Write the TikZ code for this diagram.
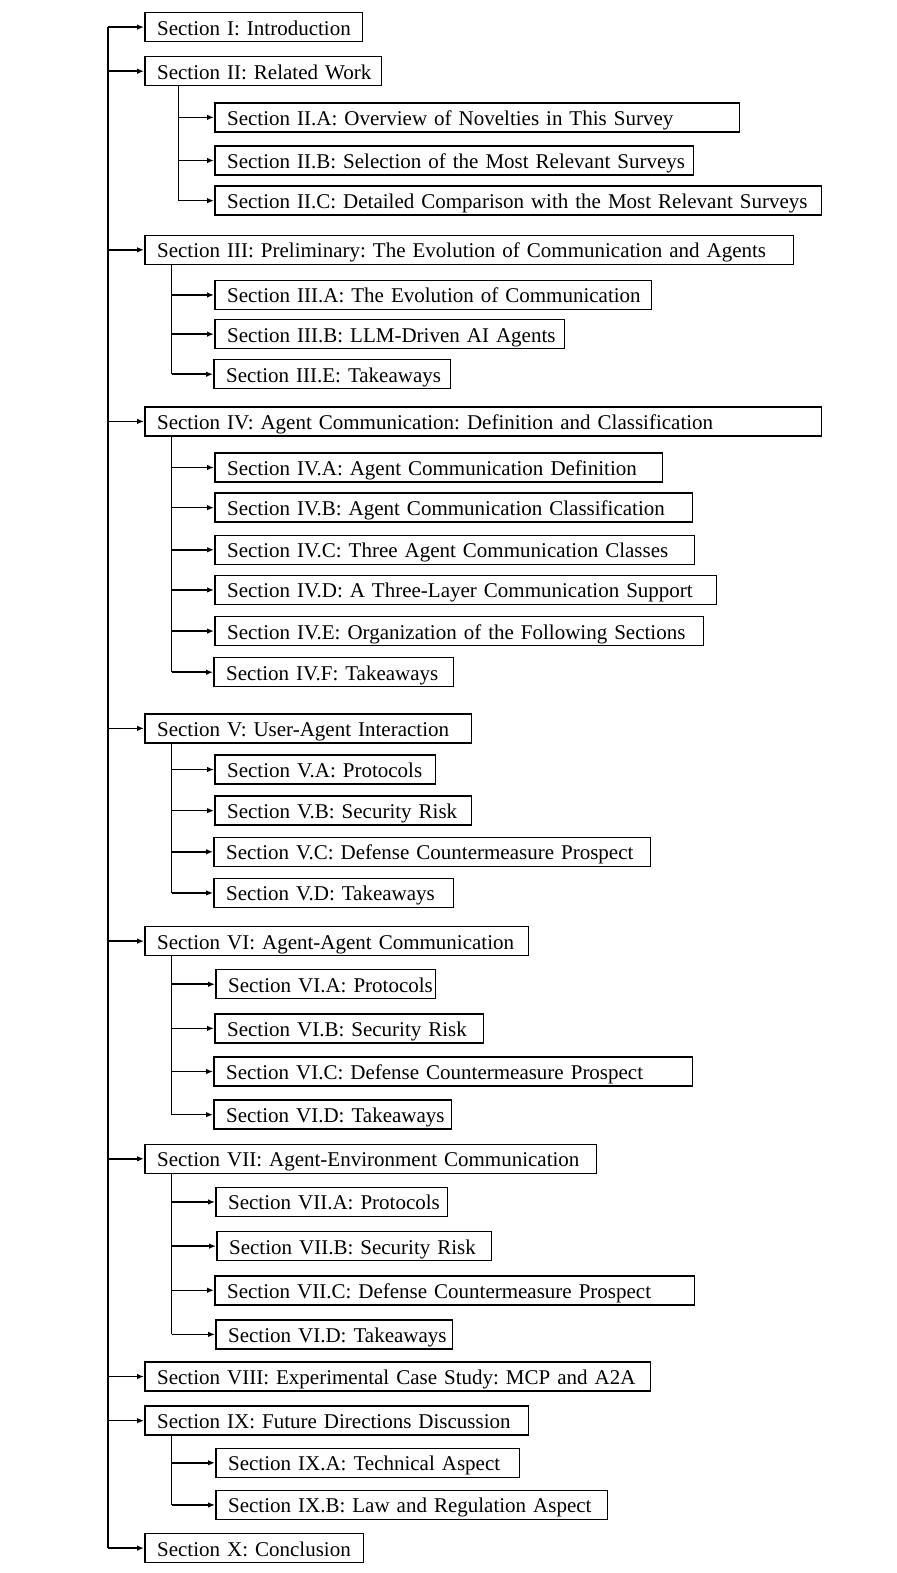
\documentclass[tikz,border=0pt]{standalone}
\usepackage{fontspec}
\setmainfont{Liberation Serif}
\usetikzlibrary{arrows.meta}
\frenchspacing

\begin{document}
\begin{tikzpicture}[
    x=0.5pt, y=-0.50165pt,
    font=\fontsize{10.5}{12}\selectfont,
    % Stile
    secbox/.style={draw=black, line width=0.75pt, anchor=west, align=left,
        inner xsep=0pt, inner ysep=0pt, text height=9.5pt, text depth=1.5pt,
        minimum height=14.5pt, text width={#1*0.5pt-0.75pt},
        execute at begin node={\hspace*{6.2pt}}},
    trunkline/.style={draw=black, line width=0.75pt},
    link/.style={trunkline, -{Latex[length=3.5pt,width=2.8pt]}}
]
    \useasboundingbox (0pt,0pt) rectangle (448.5pt,-786.5pt);

    % ==========================================
    % Hauptabschnitte und Unterabschnitte
    % ==========================================
    \node[secbox=219] (s1) at (144,27) {Section I: Introduction};

    \node[secbox=238] (s2) at (144,71) {Section II: Related Work};
    \node[secbox=526] (s2a) at (214,117) {Section II.A: Overview of Novelties in This Survey};
    \node[secbox=480] (s2b) at (214,160) {Section II.B: Selection of the Most Relevant Surveys};
    \node[secbox=608] (s2c) at (214,200) {Section II.C: Detailed Comparison with the Most Relevant Surveys};

    \node[secbox=650] (s3) at (144,249) {Section III: Preliminary: The Evolution of Communication and Agents};
    \node[secbox=438] (s3a) at (214,294) {Section III.A: The Evolution of Communication};
    \node[secbox=351] (s3b) at (214,333) {Section III.B: LLM-Driven AI Agents};
    \node[secbox=238] (s3e) at (213,373) {Section III.E: Takeaways};

    \node[secbox=678] (s4) at (144,420) {Section IV: Agent Communication: Definition and Classification};
    \node[secbox=449] (s4a) at (214,466) {Section IV.A: Agent Communication Definition};
    \node[secbox=479] (s4b) at (214,506) {Section IV.B: Agent Communication Classification};
    \node[secbox=481] (s4c) at (214,548) {Section IV.C: Three Agent Communication Classes};
    \node[secbox=503] (s4d) at (214,588) {Section IV.D: A Three-Layer Communication Support};
    \node[secbox=490] (s4e) at (214,629) {Section IV.E: Organization of the Following Sections};
    \node[secbox=241] (s4f) at (213,670) {Section IV.F: Takeaways};

    \node[secbox=328] (s5) at (144,726) {Section V: User-Agent Interaction};
    \node[secbox=222] (s5a) at (214,767) {Section V.A: Protocols};
    \node[secbox=258] (s5b) at (214,808) {Section V.B: Security Risk};
    \node[secbox=438] (s5c) at (213,849) {Section V.C: Defense Countermeasure Prospect};
    \node[secbox=241] (s5d) at (213,890) {Section V.D: Takeaways};

    \node[secbox=385] (s6) at (144,938) {Section VI: Agent-Agent Communication};
    \node[secbox=221] (s6a) at (215,981) {Section VI.A: Protocols};
    \node[secbox=270] (s6b) at (214,1025) {Section VI.B: Security Risk};
    \node[secbox=480] (s6c) at (213,1068) {Section VI.C: Defense Countermeasure Prospect};
    \node[secbox=239] (s6d) at (213,1111) {Section VI.D: Takeaways};

    \node[secbox=453] (s7) at (144,1155) {Section VII: Agent-Environment Communication};
    \node[secbox=233] (s7a) at (215,1198) {Section VII.A: Protocols};
    \node[secbox=276] (s7b) at (216,1242) {Section VII.B: Security Risk};
    \node[secbox=481] (s7c) at (214,1286) {Section VII.C: Defense Countermeasure Prospect};
    \node[secbox=238] (s7d) at (215,1330) {Section VI.D: Takeaways};

    \node[secbox=507] (s8) at (144,1372) {Section VIII: Experimental Case Study: MCP and A2A};

    \node[secbox=385] (s9) at (144,1416) {Section IX: Future Directions Discussion};
    \node[secbox=305] (s9a) at (215,1458) {Section IX.A: Technical Aspect};
    \node[secbox=393] (s9b) at (215,1500) {Section IX.B: Law and Regulation Aspect};

    \node[secbox=220] (s10) at (144,1543) {Section X: Conclusion};

    % ==========================================
    % Verbindungen
    % ==========================================
    \coordinate (trunk) at (108,0);
    \coordinate (b2) at (178.5,0);
    \coordinate (bx) at (171.5,0);

    % Hauptlinie
    \draw[trunkline] (s1.west -| trunk) -- (s10.west -| trunk);
    \foreach \s in {s1,s2,s3,s4,s5,s6,s7,s8,s9,s10}
        \draw[link] (\s.west -| trunk) -- (\s.west);

    % Section II
    \draw[trunkline] (s2.south -| b2) -- (s2c.west -| b2);
    \foreach \s in {s2a,s2b,s2c}
        \draw[link] (\s.west -| b2) -- (\s.west);

    % Sections III bis IX
    \draw[trunkline] (s3.south -| bx) -- (s3e.west -| bx);
    \foreach \s in {s3a,s3b,s3e}
        \draw[link] (\s.west -| bx) -- (\s.west);

    \draw[trunkline] (s4.south -| bx) -- (s4f.west -| bx);
    \foreach \s in {s4a,s4b,s4c,s4d,s4e,s4f}
        \draw[link] (\s.west -| bx) -- (\s.west);

    \draw[trunkline] (s5.south -| bx) -- (s5d.west -| bx);
    \foreach \s in {s5a,s5b,s5c,s5d}
        \draw[link] (\s.west -| bx) -- (\s.west);

    \draw[trunkline] (s6.south -| bx) -- (s6d.west -| bx);
    \foreach \s in {s6a,s6b,s6c,s6d}
        \draw[link] (\s.west -| bx) -- (\s.west);

    \draw[trunkline] (s7.south -| bx) -- (s7d.west -| bx);
    \foreach \s in {s7a,s7b,s7c,s7d}
        \draw[link] (\s.west -| bx) -- (\s.west);

    \draw[trunkline] (s9.south -| bx) -- (s9b.west -| bx);
    \foreach \s in {s9a,s9b}
        \draw[link] (\s.west -| bx) -- (\s.west);

\end{tikzpicture}
\end{document}
